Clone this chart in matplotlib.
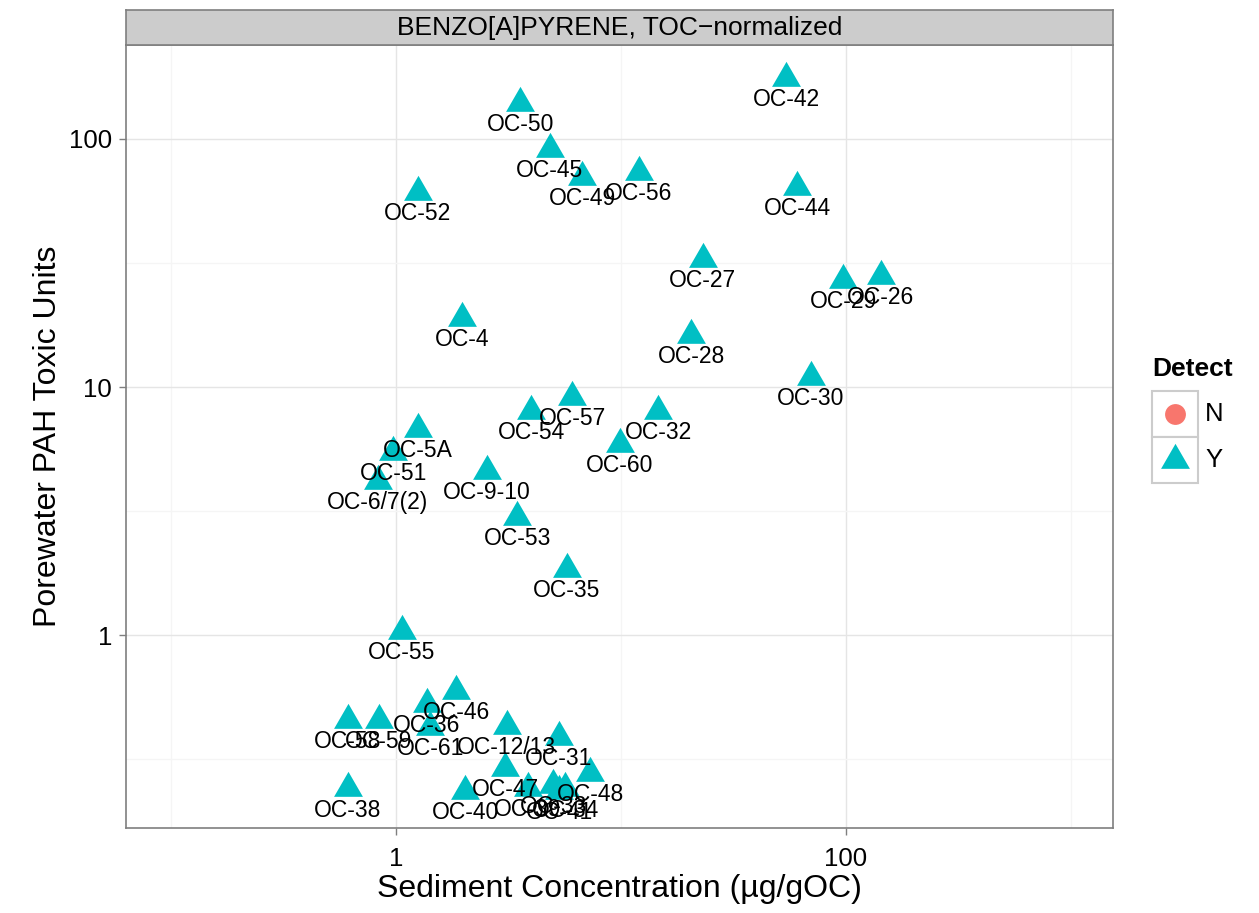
import numpy as np
import matplotlib
matplotlib.use("Agg")
import matplotlib.pyplot as plt
from matplotlib.patches import Rectangle
from matplotlib.ticker import FixedLocator, NullFormatter

plt.rcParams['font.family'] = ['Liberation Sans', 'DejaVu Sans']

# Data
stations = ['OC-42', 'OC-50', 'OC-45', 'OC-49', 'OC-56', 'OC-52', 'OC-44', 'OC-27',
            'OC-29', 'OC-26', 'OC-4', 'OC-28', 'OC-30', 'OC-57', 'OC-54', 'OC-32',
            'OC-60', 'OC-5A', 'OC-51', 'OC-6/7(2)', 'OC-9-10', 'OC-53', 'OC-35',
            'OC-55', 'OC-46', 'OC-36', 'OC-58', 'OC-59', 'OC-61', 'OC-12/13',
            'OC-31', 'OC-47', 'OC-48', 'OC-38', 'OC-40', 'OC-39', 'OC-33',
            'OC-41', 'OC-34']
sed_conc = [54.1, 3.56, 4.83, 6.71, 12.0, 1.25, 60.6, 23.1,
            97.0, 143.0, 1.97, 20.5, 69.9, 6.06, 3.98, 14.6,
            9.9, 1.25, 0.97, 0.83, 2.54, 3.45, 5.75,
            1.06, 1.85, 1.37, 0.61, 0.84, 1.42, 3.11,
            5.3, 3.05, 7.28, 0.61, 2.03, 3.86, 4.99,
            5.3, 5.64]
tox_units = [176, 140, 91, 70, 73.6, 61, 64, 32.8,
             27, 28, 19, 16.2, 11, 9.1, 8.0, 8.0,
             5.9, 6.8, 5.47, 4.18, 4.59, 2.99, 1.85,
             1.04, 0.594, 0.527, 0.454, 0.454, 0.426, 0.43,
             0.39, 0.291, 0.278, 0.241, 0.235, 0.243, 0.25,
             0.236, 0.241]
detect = ['Y'] * len(stations)

colors = {'N': '#F8766D', 'Y': '#00BFC4'}
tri = [(-1, -0.577), (1, -0.577), (0, 1.155)]

fig = plt.figure(figsize=(12.59, 9.13), dpi=100)
ax = fig.add_axes([126 / 1259, 85 / 913, 987 / 1259, 783 / 913])

for lab, xv, yv, d in zip(stations, sed_conc, tox_units, detect):
    ax.plot(xv, yv, marker=tri, markersize=24, color=colors[d], linestyle='none',
            markeredgewidth=0, zorder=3)
for lab, xv, yv in zip(stations, sed_conc, tox_units):
    ax.annotate(lab, (xv, yv), xytext=(0, -15.5), textcoords='offset points',
                ha='center', va='center', fontsize=16.5, color='black', zorder=4)

ax.set_xscale('log')
ax.set_yscale('log')
ax.set_xlim(0.063, 1538)
ax.set_ylim(0.167, 239)

ax.xaxis.set_major_locator(FixedLocator([1, 100]))
ax.xaxis.set_minor_locator(FixedLocator([0.1, 10, 1000]))
ax.yaxis.set_major_locator(FixedLocator([1, 10, 100]))
ax.yaxis.set_minor_locator(FixedLocator([10 ** -0.5, 10 ** 0.5, 10 ** 1.5]))
ax.set_xticklabels(['1', '100'])
ax.set_yticklabels(['1', '10', '100'])
ax.xaxis.set_minor_formatter(NullFormatter())
ax.yaxis.set_minor_formatter(NullFormatter())

ax.grid(which='major', color='#E5E5E5', linewidth=1.0)
ax.grid(which='minor', color='#F5F5F5', linewidth=1.0)
ax.set_axisbelow(True)
ax.tick_params(which='major', direction='out', length=5, width=1, color='#7F7F7F',
               labelsize=18.5, labelcolor='black', pad=5)
ax.tick_params(axis='x', which='major', pad=9)
ax.tick_params(which='minor', length=0)
for sp in ax.spines.values():
    sp.set_color('#7F7F7F')
    sp.set_linewidth(1.2)

ax.set_xlabel('Sediment Concentration (µg/gOC)', fontsize=23, labelpad=2)
ax.set_ylabel('Porewater PAH Toxic Units', fontsize=23, labelpad=4)

# facet strip
sax = fig.add_axes([126 / 1259, 868 / 913, 987 / 1259, 35 / 913])
sax.set_facecolor('#CCCCCC')
sax.set_xticks([])
sax.set_yticks([])
for sp in sax.spines.values():
    sp.set_color('#7F7F7F')
    sp.set_linewidth(1.2)
sax.text(0.5, 0.5, 'BENZO[A]PYRENE, TOC\u2212normalized', ha='center', va='center',
         fontsize=19, transform=sax.transAxes)

# legend
lax = fig.add_axes([1140 / 1259, 400 / 913, 119 / 1259, 130 / 913])
lax.set_xlim(1140, 1259)
lax.set_ylim(530, 400)
lax.axis('off')
lax.text(1152, 386, 'Detect', fontsize=19, fontweight='bold', va='center', ha='left',
         clip_on=False)
for i, (k, mk) in enumerate([('N', 'o'), ('Y', tri)]):
    y0 = 408 + 46 * i
    lax.add_patch(Rectangle((1152, y0), 46, 46, facecolor='white',
                            edgecolor='#CCCCCC', linewidth=1.5))
    lax.plot(1175, y0 + 23, marker=mk, markersize=15 if k == 'N' else 24,
             color=colors[k], markeredgewidth=0, linestyle='none')
    lax.text(1205, y0 + 23, k, fontsize=18.5, va='center', ha='left')

fig.savefig('out.png', dpi=100)
